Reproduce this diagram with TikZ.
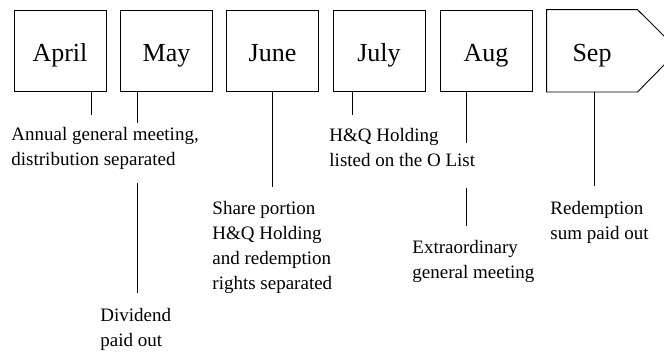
\documentclass[tikz,border=0pt]{standalone}
\usepackage{fontspec}
\setmainfont{Liberation Serif}
\begin{document}
\begin{tikzpicture}[x=10pt,y=-10pt,line width=0.9pt,
  month/.style={draw,minimum width=92pt,minimum height=81.5pt,inner sep=0pt,text height=22pt,text depth=0pt,font=\fontsize{26}{30}\selectfont},
  event/.style={anchor=north west,inner sep=0pt,align=left,font=\fontsize{19}{25}\selectfont}]
\useasboundingbox (0,0) rectangle (66.4,35.1);
\node [month] (april) at (6.0,5.08) {April};
\node [month] (may) at (16.65,5.08) {May};
\node [month] (june) at (27.25,5.08) {June};
\node [month] (july) at (37.9,5.08) {July};
\node [month] (aug) at (48.6,5.08) {Aug};
\node [month,draw=none,minimum width=90pt] (sep) at (59.2,5.08) {Sep};
\draw (sep.north west) -- (sep.north east) -- ++(4.1,4.075) -- (sep.south east) -- (sep.south west) -- cycle;
\node [event] (agm) at (1.1,12.7) {Annual general meeting,\\distribution separated};
\node [event] (dividend) at (10.0,30.8) {Dividend\\paid out};
\node [event] (share) at (21.2,20.1) {Share portion\\H\&Q Holding\\and redemption\\rights separated};
\node [event] (listing) at (32.9,12.8) {H\&Q Holding\\listed on the O List};
\node [event] (egm) at (41.2,24.0) {Extraordinary\\general meeting};
\node [event] (redemption) at (55.0,20.1) {Redemption\\sum paid out};
\coordinate (agm-april) at (9.1,11.5);
\coordinate (agm-may) at (13.7,12.3);
\coordinate (div-top) at (13.7,18.3);
\coordinate (div-end) at (13.7,29.3);
\coordinate (share-june) at (27.2,18.7);
\coordinate (list-july) at (35.2,11.5);
\coordinate (list-aug) at (46.6,14.3);
\coordinate (egm-top) at (46.6,18.8);
\coordinate (egm-end) at (46.6,22.6);
\coordinate (red-sep) at (59.4,18.6);
\draw (april.south -| agm-april) -- (agm-april);
\draw (may.south -| agm-may) -- (agm-may);
\draw (div-top) -- (div-end);
\draw (june.south -| share-june) -- (share-june);
\draw (july.south -| list-july) -- (list-july);
\draw (aug.south -| list-aug) -- (list-aug);
\draw (egm-top) -- (egm-end);
\draw (sep.south -| red-sep) -- (red-sep);
\end{tikzpicture}
\end{document}
